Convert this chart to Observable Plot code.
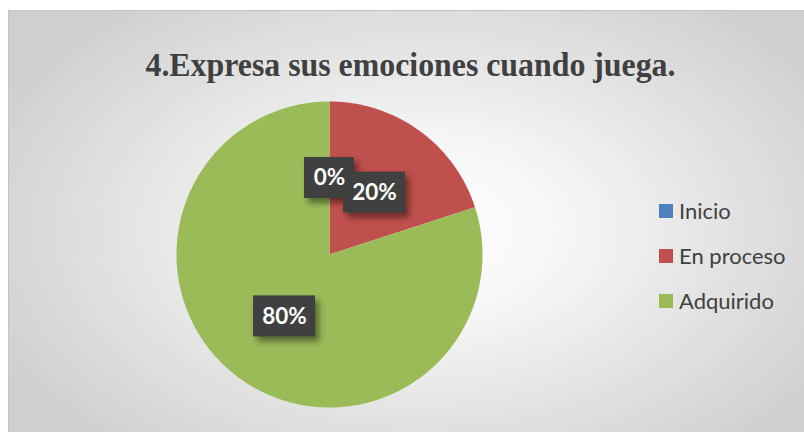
<!DOCTYPE html>
<html>
<head>
<meta charset="utf-8">
<script src="https://cdn.jsdelivr.net/npm/d3@7"></script>
<script src="https://cdn.jsdelivr.net/npm/@observablehq/plot@0.6"></script>
<style>
  html, body { margin: 0; padding: 0; background: #ffffff; }
  #wrap { position: relative; width: 804px; height: 432px; overflow: hidden; }
  #bg { position: absolute; left: 8px; top: 10px; width: 796px; height: 422px;
        border-top: 1px solid #c4c4c4; border-left: 1px solid #c4c4c4; box-sizing: border-box;
        background: radial-gradient(ellipse 60% 70% at 52% 52%, #ffffff 0%, #f6f6f6 30%, #e2e2e2 65%, #cfcfcf 100%); }
  #chart { position: absolute; left: 0; top: 0; }
  #legend { position: absolute; left: 659px; top: 188px; }
  .lg-swatch { height: 45px !important; padding: 0 !important; display: flex !important; align-items: center !important; }
  .lg-swatch svg { margin-right: 6px !important; }
</style>
</head>
<body>
<div id="wrap">
  <div id="bg"></div>
  <div id="chart"></div>
  <div id="legend"></div>
</div>
<script>
const title = "4.Expresa sus emociones cuando juega.";
const categories = ["Inicio", "En proceso", "Adquirido"];
const values = [0, 20, 80];
const labels = ["0%", "20%", "80%"];
const colors = ["#4F81BD", "#C0504D", "#9BBB59"];

const arcs = d3.pie().sort(null).value(d => d.value)(
  categories.map((c, i) => ({category: c, value: values[i], label: labels[i]}))
);

// slice outlines in unit circle coordinates (y up)
const slicePts = [];
for (const a of arcs) {
  const c = a.data.category;
  slicePts.push({category: c, x: 0, y: 0});
  const n = Math.max(2, Math.ceil((a.endAngle - a.startAngle) / (Math.PI / 360)));
  for (let k = 0; k <= n; k++) {
    const t = a.startAngle + (a.endAngle - a.startAngle) * k / n;
    slicePts.push({category: c, x: Math.sin(t), y: Math.cos(t)});
  }
  slicePts.push({category: c, x: 0, y: 0});
}

const R = 153; // pixel radius used by the scale ranges below
const labelPts = arcs.map(a => {
  const m = (a.startAngle + a.endAngle) / 2;
  const x = 0.5 * Math.sin(m), y = 0.5 * Math.cos(m);
  const w = (a.data.label.length <= 2 ? 50 : 62) / R / 2;
  const h = 41 / R / 2;
  return {label: a.data.label, x, y, x1: x - w, x2: x + w, y1: y - h, y2: y + h};
});

const plot = Plot.plot({
  width: 804,
  height: 432,
  margin: 0,
  x: {domain: [-1, 1], range: [329 - R, 329 + R], axis: null},
  y: {domain: [-1, 1], range: [254 + R, 254 - R], axis: null},
  color: {domain: categories, range: colors},
  style: {background: "transparent", overflow: "visible"},
  marks: [
    Plot.line(slicePts, {x: "x", y: "y", z: "category", fill: "category", stroke: "none", curve: "linear"}),
    Plot.rect(labelPts, {x1: "x1", x2: "x2", y1: "y1", y2: "y2", fill: "#404040"}),
    Plot.text(labelPts, {x: "x", y: "y", text: "label", fill: "#ffffff", fontSize: 22.5, fontWeight: "bold", fontFamily: "Lato"}),
    Plot.text([title], {frameAnchor: "top-left", dx: 410, dy: 51, text: d => d, textAnchor: "middle",
      fontFamily: "Liberation Serif", fontWeight: "bold", fontSize: 34, fill: "#404040"})
  ]
});

d3.select(plot).selectAll("g[aria-label=rect] rect")
  .style("filter", "drop-shadow(4px 5px 3px rgba(0,0,0,0.45))");
d3.select(plot).selectAll("g[aria-label=text]").filter((d, i, n) => n[i] === n[n.length - 1])
  .selectAll("text").attr("textLength", 530).attr("lengthAdjust", "spacingAndGlyphs");

document.getElementById("chart").appendChild(plot);

const legend = Plot.legend({
  color: {domain: categories, range: colors},
  legend: "swatches",
  columns: 1,
  swatchSize: 14,
  className: "lg",
  style: {fontFamily: "Lato", fontSize: "22px", color: "#404040"}
});
document.getElementById("legend").appendChild(legend);
</script>
</body>
</html>
